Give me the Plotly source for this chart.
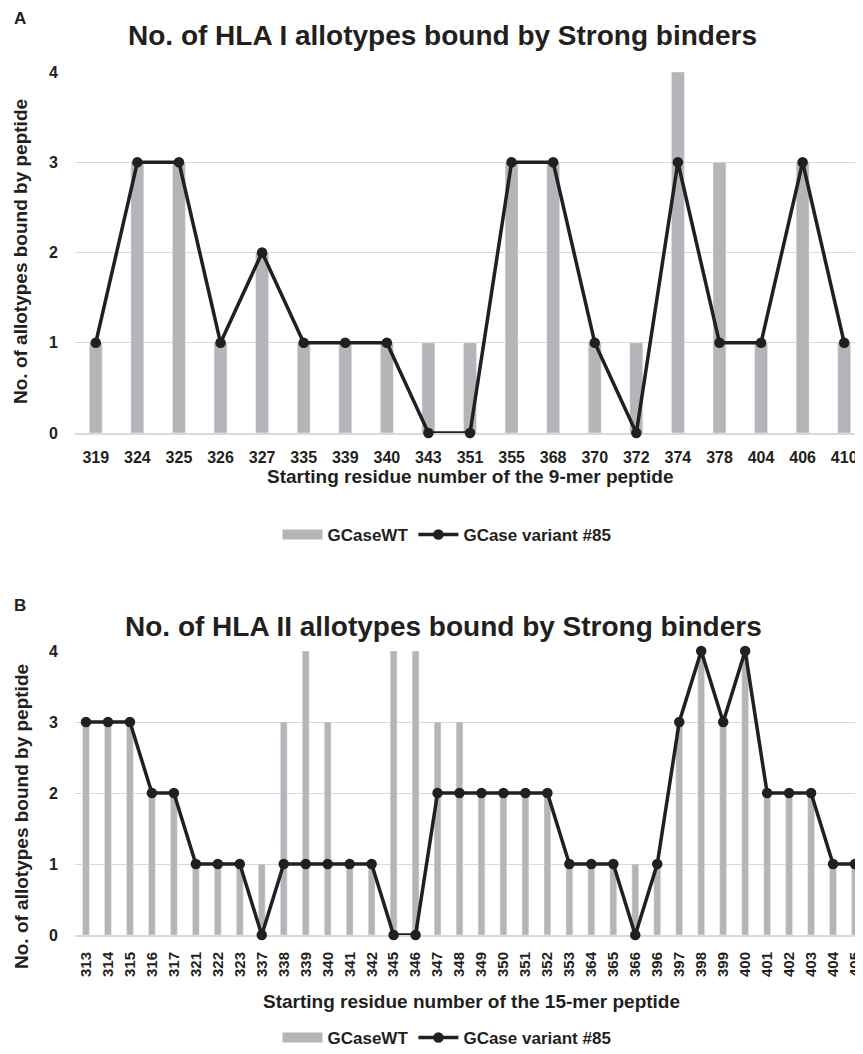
import plotly.graph_objects as go

# ---- Data ----
cats_a = ["319", "324", "325", "326", "327", "335", "339", "340", "343", "351",
          "355", "368", "370", "372", "374", "378", "404", "406", "410"]
wt_a = [1, 3, 3, 1, 2, 1, 1, 1, 1, 1, 3, 3, 1, 1, 4, 3, 1, 3, 1]
var_a = [1, 3, 3, 1, 2, 1, 1, 1, 0, 0, 3, 3, 1, 0, 3, 1, 1, 3, 1]

cats_b = ["313", "314", "315", "316", "317", "321", "322", "323", "337", "338",
          "339", "340", "341", "342", "345", "346", "347", "348", "349", "350",
          "351", "352", "353", "364", "365", "366", "396", "397", "398", "399",
          "400", "401", "402", "403", "404", "405"]
wt_b = [3, 3, 3, 2, 2, 1, 1, 1, 1, 3, 4, 3, 1, 1, 4, 4, 3, 3, 2, 2,
        2, 2, 1, 1, 1, 1, 1, 3, 4, 3, 4, 2, 2, 2, 1, 1]
var_b = [3, 3, 3, 2, 2, 1, 1, 1, 0, 1, 1, 1, 1, 1, 0, 0, 2, 2, 2, 2,
         2, 2, 1, 1, 1, 0, 1, 3, 4, 3, 4, 2, 2, 2, 1, 1]

title_a = "No. of HLA I allotypes bound by Strong binders"
title_b = "No. of HLA II allotypes bound by Strong binders"
xtitle_a = "Starting residue number of the 9-mer peptide"
xtitle_b = "Starting residue number of the 15-mer peptide"
ytitle = "No. of allotypes bound by peptide"
name_wt = "GCaseWT"
name_var = "GCase variant #85"

W, H = 863, 1054
OFF = 8  # page body margin
BAR = "#B4B5B8"
LINE = "#231F20"
GRID = "#D9D9D9"
TXT = "#231F20"
FONT = "Liberation Sans, Arial, sans-serif"


def X(px):
    return (px - OFF) / W


def Y(px):
    return 1 - (px - OFF) / H


def bold(size):
    return dict(family=FONT, size=size, color=TXT, weight="bold")


fig = go.Figure()
panels = [
    (cats_a, wt_a, var_a, "x", "y", "legend"),
    (cats_b, wt_b, var_b, "x2", "y2", "legend2"),
]
for cats, wt, var, xa, ya, lg in panels:
    fig.add_trace(go.Bar(x=cats, y=wt, name=name_wt, marker_color=BAR,
                         showlegend=False, xaxis=xa, yaxis=ya))
    # legend-only swatch for the bars (wide rectangle like the original)
    fig.add_trace(go.Scatter(x=[None], y=[None], name=name_wt, mode="lines",
                             line=dict(color=BAR, width=12),
                             xaxis=xa, yaxis=ya, legend=lg))
    fig.add_trace(go.Scatter(x=cats, y=var, name=name_var, mode="lines+markers",
                             line=dict(color=LINE, width=3.5),
                             marker=dict(color=LINE, size=10.5, symbol="circle"),
                             cliponaxis=False, xaxis=xa, yaxis=ya, legend=lg))

yax_common = dict(range=[0, 4], dtick=1, showgrid=True, gridcolor=GRID, gridwidth=1.3,
                  zeroline=False, showline=False, ticks="", ticklabelstandoff=16,
                  tickfont=bold(16), automargin=False, fixedrange=True,
                  layer="below traces")
xax_common = dict(type="category", showgrid=False, showline=True, linecolor=GRID,
                  linewidth=2, ticks="", zeroline=False, automargin=False,
                  fixedrange=True, layer="below traces")

fig.update_layout(
    width=W, height=H,
    margin=dict(l=0, r=0, t=0, b=0),
    paper_bgcolor="white", plot_bgcolor="white",
    bargap=0.69,
    xaxis=dict(domain=[X(75), X(865)], anchor="y", range=[-0.5, 18.5],
               tickfont=bold(16), ticklabelstandoff=9, tickangle=0, **xax_common),
    yaxis=dict(domain=[Y(433), Y(72)], anchor="x", **yax_common),
    xaxis2=dict(domain=[X(75), X(866)], anchor="y2", range=[-0.5, 35.5],
                tickfont=bold(15), ticklabelstandoff=9, tickangle=-90, **xax_common),
    yaxis2=dict(domain=[Y(935), Y(651)], anchor="x2", **yax_common),
    legend=dict(orientation="h", x=X(447), xanchor="center", y=Y(535), yanchor="middle",
                font=bold(17), itemwidth=40, tracegroupgap=0,
                bgcolor="rgba(0,0,0,0)"),
    legend2=dict(orientation="h", x=X(447), xanchor="center", y=Y(1038), yanchor="middle",
                 font=bold(17), itemwidth=40, tracegroupgap=0,
                 bgcolor="rgba(0,0,0,0)"),
    showlegend=True,
)


def note(text, x, y, size, angle=0, anchor="center"):
    return dict(text=text, x=X(x), y=Y(y), xref="paper", yref="paper",
                xanchor=anchor, yanchor="middle", showarrow=False,
                textangle=angle, font=bold(size))


ann = [
    note("A", 12, 18, 17, anchor="left"),
    note("B", 12, 605, 17, anchor="left"),
    note(title_a, 442, 35, 28),
    note(title_b, 443, 626, 28),
    note(xtitle_a, 470, 476, 19),
    note(xtitle_b, 471, 1001, 19),
    note(ytitle, 21, 252, 19, angle=-90),
    note(ytitle, 21, 817, 19, angle=-90),
]
fig.update_layout(annotations=ann)

fig.write_html("out.html")
